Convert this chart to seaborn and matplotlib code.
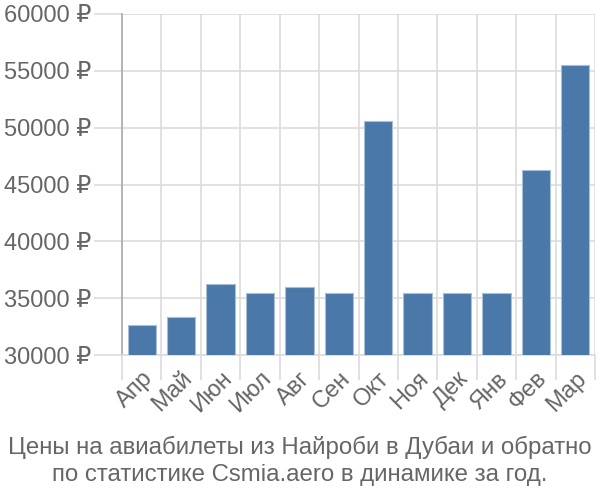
import matplotlib
matplotlib.use("Agg")
import matplotlib.pyplot as plt
import seaborn as sns
import numpy as np
import pandas as pd

months = ["Апр", "Май", "Июн", "Июл", "Авг", "Сен", "Окт", "Ноя", "Дек", "Янв", "Фев", "Мар"]
prices = [32600, 33300, 36270, 35450, 35950, 35450, 50550, 35450, 35450, 35450, 46240, 55480]
yticks = [30000, 35000, 40000, 45000, 50000, 55000, 60000]
title = "Цены на авиабилеты из Найроби в Дубаи и обратно\nпо статистике Csmia.aero в динамике за год."

sns.set_theme(style="white")
plt.rcParams['font.family'] = ['Liberation Sans', 'DejaVu Sans']

df = pd.DataFrame({"month": months, "price": prices})

fig = plt.figure(figsize=(6, 5), dpi=100)
ax = fig.add_axes([122/600, 1-355/500, (595-122)/600, (355-14)/500])

sns.barplot(data=df, x="month", y="price", color="#4a78a8", saturation=1,
            width=0.72, edgecolor="#a9bfd8", linewidth=0.8, ax=ax, zorder=3)

ax.set_ylim(30000, 60000)
ax.set_xlim(-0.5, len(months) - 0.5)
ax.set_yticks(yticks)
ax.set_yticklabels([f"{v} ₽" for v in yticks])
ax.set_xticks(np.arange(len(months)))
ax.set_xticks(np.arange(len(months) + 1) - 0.5, minor=True)
ax.set_xticklabels(months, rotation=45, ha="right", rotation_mode="anchor")

gc = "#dcdcdc"
ax.grid(True, axis="y", which="major", color=gc, linewidth=1.2, zorder=0)
ax.grid(True, axis="x", which="minor", color=gc, linewidth=1.2, zorder=0)
ax.grid(False, axis="x", which="major")
ax.tick_params(axis="x", which="major", length=0, pad=9, labelsize=17, labelcolor="#666666")
ax.tick_params(axis="x", which="minor", length=18, width=1.2, color=gc, bottom=True)
ax.tick_params(axis="y", which="major", length=20, width=1.2, color=gc, labelsize=17,
               labelcolor="#666666", left=True, pad=2)

for s in ["top", "right"]:
    ax.spines[s].set_visible(False)
ax.spines["bottom"].set_color(gc)
ax.spines["bottom"].set_linewidth(1.2)
ax.spines["left"].set_color("#aaaaaa")
ax.spines["left"].set_linewidth(1.2)
ax.set_xlabel("")
ax.set_ylabel("")

fig.text(0.5, 1 - 461/500, title, ha="center", va="center", fontsize=17.3,
         color="#666666", linespacing=1.32)

fig.savefig("out.png", dpi=100)
